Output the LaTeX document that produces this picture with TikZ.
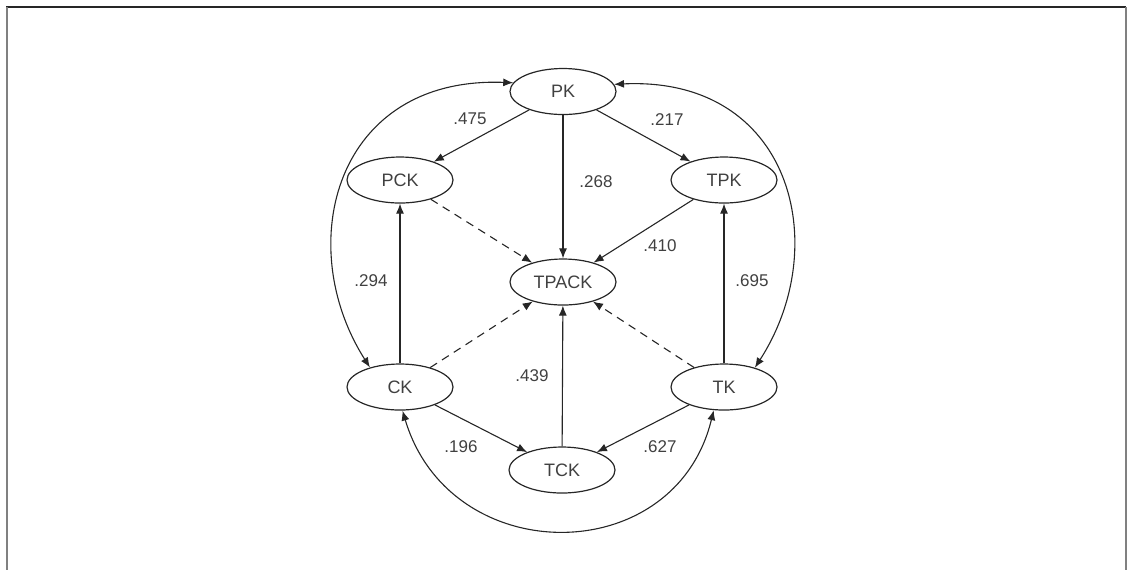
\documentclass[tikz,border=0pt]{standalone}
\usepackage{fontspec}
\setmainfont{Liberation Sans}
\usetikzlibrary{arrows.meta,shapes.geometric}
\definecolor{ink}{rgb}{0.15,0.15,0.15}
\definecolor{label}{rgb}{0.25,0.25,0.25}
\definecolor{framegray}{rgb}{0.5,0.5,0.5}
\begin{document}
\begin{tikzpicture}[x=0.5pt,y=-0.5pt,
  construct/.style={ellipse,draw=ink,line width=0.6pt,minimum width=53pt,minimum height=23pt,inner sep=0pt,font=\fontsize{9}{10}\selectfont,text=label},
  path/.style={draw=ink,line width=0.55pt,-{Latex[length=5pt,width=4pt]}},
  weak/.style={path,dash pattern=on 4pt off 3pt},
  corr/.style={draw=ink,line width=0.55pt,{Latex[length=5pt,width=4pt]}-{Latex[length=5pt,width=4pt]}},
  coef/.style={font=\fontsize{8.5}{10}\selectfont,text=label,inner sep=0pt}]
\useasboundingbox (0,0) rectangle (1128,570);
% frame
\draw[ink,line width=0.8pt] (6,7) -- (1126,7);
\draw[framegray,line width=1pt] (6.5,7) -- (6.5,570);
\draw[framegray,line width=1pt] (1125.5,7) -- (1125.5,570);
% constructs
\node[construct] (PK) at (563,91.5) {PK};
\node[construct] (PCK) at (400,180) {PCK};
\node[construct] (TPK) at (724,180) {TPK};
\node[construct] (TPACK) at (563,282) {TPACK};
\node[construct] (CK) at (400,387) {CK};
\node[construct] (TK) at (724,387) {TK};
\node[construct] (TCK) at (562,470) {TCK};
% paths
\draw[path] (PK) -- (PCK);
\draw[path] (PK) -- (TPK);
\draw[path] (PK) -- (TPACK);
\draw[path] (TPK) -- (TPACK);
\draw[weak] (PCK) -- (TPACK);
\draw[path] (CK) -- (PCK);
\draw[weak] (CK) -- (TPACK);
\draw[path] (TK) -- (TPK);
\draw[weak] (TK) -- (TPACK);
\draw[path] (TCK) -- (TPACK);
\draw[path] (CK) -- (TCK);
\draw[path] (TK) -- (TCK);
% correlations
\draw[corr] (PK.170) .. controls (335,76) and (292,245) .. (CK.147);
\draw[corr] (PK.8) .. controls (791,76) and (834,245) .. (TK.32);
\draw[corr] (CK.-84) .. controls (450,570) and (675,570) .. (TK.-114);
% coefficients
\node[coef] (c1) at (470,119) {.475};
\node[coef] (c2) at (667,120) {.217};
\node[coef] (c3) at (596,182) {.268};
\node[coef] (c4) at (660,246) {.410};
\node[coef] (c5) at (371,281) {.294};
\node[coef] (c6) at (752,281) {.695};
\node[coef] (c7) at (532,376) {.439};
\node[coef] (c8) at (461,447) {.196};
\node[coef] (c9) at (660,447) {.627};
\end{tikzpicture}
\end{document}
